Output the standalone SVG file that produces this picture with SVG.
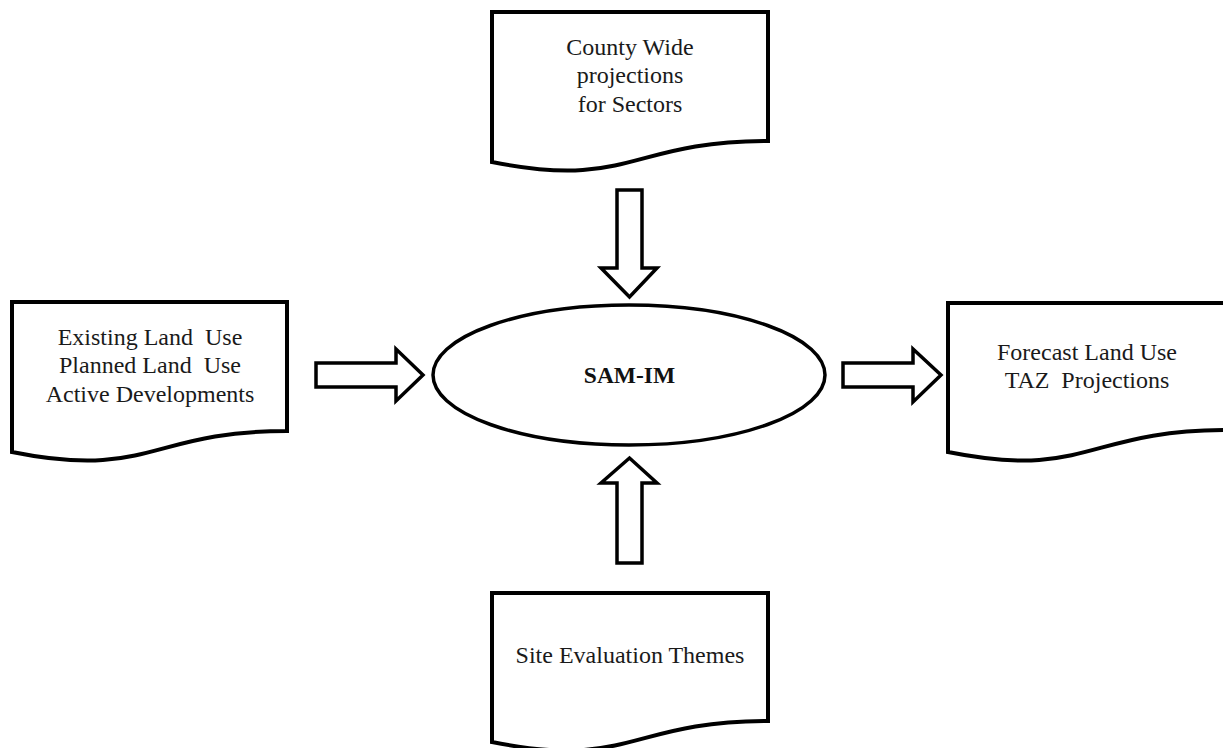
<svg xmlns="http://www.w3.org/2000/svg" width="1223" height="748" viewBox="0 0 1223 748">
<style>
.doc{fill:#fff;stroke:#000;stroke-width:4;stroke-linejoin:miter}
.arr{fill:#fff;stroke:#000;stroke-width:3.5;stroke-linejoin:miter}
.t{font-family:"Liberation Serif","Times New Roman",serif;font-size:24px;fill:#1a1a1a;text-anchor:middle}
.b{font-weight:bold;fill:#111;font-size:23.5px}
</style>
<rect width="1223" height="748" fill="#fff"/>
<g id="top-doc">
<path class="doc" d="M492,12 H768 V141 C630,141 630,190 492,162 Z"/>
<text class="t" x="630" y="55">County Wide</text>
<text class="t" x="630" y="83">projections</text>
<text class="t" x="630" y="112">for Sectors</text>
</g>
<g id="left-doc">
<path class="doc" d="M12,302 H287 V431 C150,431 150,480 12,452 Z"/>
<text class="t" x="150" y="345" xml:space="preserve">Existing Land  Use</text>
<text class="t" x="150" y="373" xml:space="preserve">Planned Land  Use</text>
<text class="t" x="150" y="402">Active Developments</text>
</g>
<g id="right-doc">
<path class="doc" d="M948,303 H1227 V430 C1087,430 1087,480 948,452 Z"/>
<text class="t" x="1087" y="360">Forecast Land Use</text>
<text class="t" x="1087" y="388" xml:space="preserve">TAZ  Projections</text>
</g>
<g id="bottom-doc">
<path class="doc" d="M492,593 H768 V721 C630,721 630,770 492,742 Z"/>
<text class="t" x="630" y="663">Site Evaluation Themes</text>
</g>
<g id="sam-im">
<ellipse cx="629" cy="375" rx="196" ry="70" fill="#fff" stroke="#000" stroke-width="3.5"/>
<text class="t b" x="629.5" y="383">SAM-IM</text>
</g>
<g id="connectors">
<path class="arr" d="M316,363 H396 V349 L423,375 L396,401 V387 H316 Z"/>
<path class="arr" d="M843,363 H913 V349 L941,375 L913,402 V387 H843 Z"/>
<path class="arr" d="M617,190 H642 V268 H657 L629.5,297 L601,268 H617 Z"/>
<path class="arr" d="M617,563 H642 V483 H657 L629.5,458 L601,483 H617 Z"/>
</g>
</svg>
